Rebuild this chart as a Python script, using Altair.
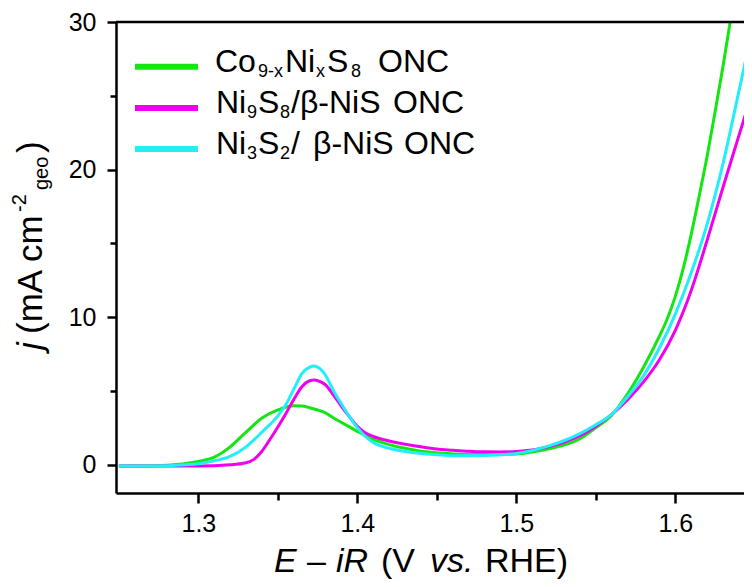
import altair as alt
import pandas as pd

# ---------------- data ----------------
series_names = ["Co9-xNixS8 ONC", "Ni9S8/β-NiS ONC", "Ni3S2/ β-NiS ONC"]
series_colors = ["#14E614", "#F000F0", "#22EEFA"]

green_E = [1.25, 1.27, 1.28, 1.29, 1.30, 1.31, 1.32, 1.33, 1.34, 1.35, 1.36, 1.365, 1.37, 1.375,
           1.38, 1.385, 1.39, 1.395, 1.40, 1.41, 1.42, 1.43, 1.44, 1.45, 1.46, 1.48, 1.50, 1.51,
           1.52, 1.54, 1.55, 1.56, 1.57, 1.58, 1.59, 1.595, 1.60, 1.605, 1.61, 1.615, 1.62,
           1.625, 1.63, 1.636]
green_j = [-0.1, -0.08, -0.05, 0.03, 0.2, 0.5, 1.2, 2.2, 3.15, 3.7, 3.98, 3.97, 3.85, 3.7,
           3.5, 3.15, 2.85, 2.55, 2.25, 1.7, 1.35, 1.1, 0.9, 0.8, 0.72, 0.68, 0.72, 0.85,
           1.05, 1.75, 2.5, 3.35, 4.8, 6.6, 8.7, 9.9, 11.4, 13.3, 15.6, 18.2, 20.9,
           23.9, 27.0, 31.0]

magenta_E = [1.25, 1.30, 1.32, 1.33, 1.335, 1.34, 1.345, 1.35, 1.355, 1.36, 1.365, 1.37,
             1.373, 1.377, 1.38, 1.385, 1.39, 1.395, 1.40, 1.405, 1.41, 1.42, 1.43, 1.44,
             1.45, 1.46, 1.47, 1.48, 1.49, 1.50, 1.51, 1.52, 1.53, 1.54, 1.55, 1.56, 1.57,
             1.58, 1.59, 1.60, 1.61, 1.62, 1.63, 1.64, 1.65]
magenta_j = [-0.1, -0.1, -0.02, 0.12, 0.35, 0.9, 1.7, 2.55, 3.45, 4.4, 5.25, 5.68,
             5.73, 5.6, 5.4, 4.7, 3.95, 3.25, 2.6, 2.15, 1.9, 1.6, 1.38, 1.2,
             1.05, 0.97, 0.9, 0.86, 0.85, 0.88, 0.98, 1.2, 1.5, 1.95, 2.6, 3.4, 4.4,
             5.6, 7.1, 9.1, 11.8, 15.2, 18.8, 22.3, 25.8]

cyan_E = [1.25, 1.28, 1.29, 1.30, 1.31, 1.32, 1.33, 1.34, 1.35, 1.355, 1.36, 1.365, 1.37,
          1.372, 1.375, 1.38, 1.385, 1.39, 1.395, 1.40, 1.405, 1.41, 1.42, 1.43, 1.44,
          1.45, 1.46, 1.48, 1.50, 1.52, 1.54, 1.55, 1.56, 1.57, 1.58, 1.59, 1.60, 1.61,
          1.62, 1.63, 1.64, 1.65]
cyan_j = [-0.1, -0.08, -0.03, 0.05, 0.25, 0.55, 1.2, 2.2, 3.3, 4.05, 5.1, 6.15, 6.6,
          6.68, 6.6, 6.05, 5.0, 4.1, 3.25, 2.5, 1.9, 1.5, 1.1, 0.88, 0.74,
          0.66, 0.6, 0.62, 0.75, 1.25, 2.1, 2.7, 3.4, 4.6, 6.0, 7.9, 10.2, 13.0,
          16.3, 20.4, 25.3, 30.3]

x_ticks = [1.3, 1.35, 1.4, 1.45, 1.5, 1.55, 1.6]
y_ticks = [0, 5, 10, 15, 20, 25, 30]

# legend label pieces (text, is_subscript) for each series, in series order
legend_pieces = [
    [("Co", False), ("9-x", True), ("Ni", False), ("x", True), ("S", False), ("8", True), ("ONC", False)],
    [("Ni", False), ("9", True), ("S", False), ("8", True), ("/β-NiS", False), ("ONC", False)],
    [("Ni", False), ("3", True), ("S", False), ("2", True), ("/", False), ("β-NiS", False), ("ONC", False)],
]

rows = []
for name, xs, ys in zip(series_names, [green_E, magenta_E, cyan_E], [green_j, magenta_j, cyan_j]):
    for e, j in zip(xs, ys):
        rows.append({"E": e, "j": j, "series": name})
df = pd.DataFrame(rows)

# ---------------- layout / style ----------------
FONT = "Liberation Sans"
W, H = 628, 471

xscale = alt.Scale(domain=[1.2482, 1.6432], nice=False, zero=False)
yscale = alt.Scale(domain=[-1.93, 30], nice=False, zero=False)
cscale = alt.Scale(domain=series_names, range=series_colors)

axis_common = dict(
    title=None, grid=False, domainColor="black", domainWidth=2.5,
    tickColor="black", tickWidth=2.5, labelFont=FONT, labelFontSize=25,
    labelColor="black", labelFlush=False, labelOverlap=False,
)

x_axis = alt.Axis(
    values=x_ticks,
    labelExpr="abs(datum.value*10 - round(datum.value*10)) < 0.01 ? format(datum.value, '.1f') : ''",
    tickSize={"condition": {"test": "abs(datum.value*10 - round(datum.value*10)) < 0.01", "value": 10}, "value": 7},
    labelPadding=8,
    **axis_common,
)
y_axis = alt.Axis(
    values=y_ticks,
    labelExpr="datum.value % 10 == 0 ? format(datum.value, 'd') : ''",
    tickSize={"condition": {"test": "datum.value % 10 == 0", "value": 9}, "value": 6},
    labelPadding=11,
    **axis_common,
)

lines = alt.Chart(df).mark_line(strokeWidth=3, interpolate="monotone", clip=True).encode(
    x=alt.X("E:Q", scale=xscale, axis=x_axis),
    y=alt.Y("j:Q", scale=yscale, axis=y_axis),
    color=alt.Color("series:N", sort=series_names, scale=cscale, legend=None),
    detail="series:N",
)

top_rule = alt.Chart(pd.DataFrame({"j": [30]})).mark_rule(color="black", strokeWidth=2.5).encode(
    y=alt.Y("j:Q", scale=yscale)
)


def txt(s, x, y, size, italic=False, angle=0):
    return alt.Chart(pd.DataFrame({"t": [s]})).mark_text(
        font=FONT, fontSize=size, fontStyle="italic" if italic else "normal",
        align="left", baseline="alphabetic", angle=angle, color="black",
    ).encode(text="t:N", x=alt.value(x), y=alt.value(y))


# legend (manual, so that the subscripts look like the original)
LF, LS, SUB_DROP = 32, 18, 5
row_base = [50, 91, 132]
row_swatch = [44.7, 86, 127]
piece_x = [
    [99, 142, 169, 200, 211, 235, 262],
    [100, 131, 142, 164, 175, 277],
    [100, 131, 142, 164, 175, 197, 288],
]
legend_layers = []
for i, name in enumerate(series_names):
    legend_layers.append(
        alt.Chart(pd.DataFrame({"series": [name]})).mark_rule(strokeWidth=6).encode(
            x=alt.value(19), x2=alt.value(82), y=alt.value(row_swatch[i]),
            color=alt.Color("series:N", scale=cscale, legend=None),
        )
    )
    for (piece, is_sub), px in zip(legend_pieces[i], piece_x[i]):
        if is_sub:
            legend_layers.append(txt(piece, px, row_base[i] + SUB_DROP, LS))
        else:
            legend_layers.append(txt(piece, px, row_base[i], LF))

# axis titles with italic parts, superscript and subscript
xt_y = 550
XF = 34
x_title = [
    txt("E", 158, xt_y, XF, italic=True),
    txt("–", 191, xt_y, XF),
    txt("iR", 220, xt_y, XF, italic=True),
    txt("(V", 265, xt_y, XF),
    txt("vs.", 314, xt_y, XF, italic=True),
    txt("RHE)", 369, xt_y, XF),
]
YF = 35
y_title = [
    txt("j", -74, 328, YF, italic=True, angle=270),
    txt("(mA cm", -74, 312, YF, angle=270),
    txt("-2", -90, 190, 20, angle=270),
    txt("geo", -68, 168, 20, angle=270),
    txt(")", -74, 131, YF, angle=270),
]

chart = alt.layer(lines, top_rule, *legend_layers, *x_title, *y_title).properties(
    width=W, height=H,
    autosize=alt.AutoSizeParams(type="none"),
    padding={"left": 108, "top": 14, "right": 0, "bottom": 86},
).configure_view(stroke=None).configure(background="white")

chart.save("out.html", embed_options={"renderer": "svg", "actions": False})
